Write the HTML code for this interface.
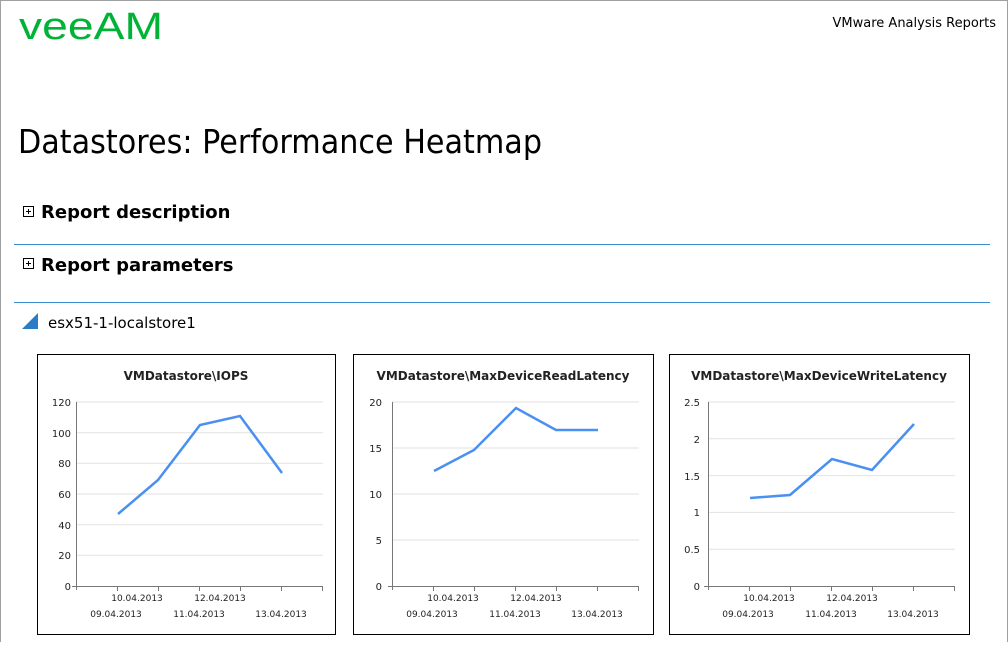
<!DOCTYPE html>
<html><head><meta charset="utf-8"><style>
body{margin:0;width:1008px;height:642px;overflow:hidden;background:#fff;font-family:"DejaVu Sans","Liberation Sans",sans-serif;}
</style></head><body>
<svg width="1008" height="642" xmlns="http://www.w3.org/2000/svg" font-family="DejaVu Sans, Liberation Sans, sans-serif">
<rect x="0.5" y="0.5" width="1007" height="660" fill="none" stroke="#a0a0a0"/>
<text x="19" y="39" font-size="38" fill="#00b336" font-family="Liberation Sans, sans-serif" textLength="144" lengthAdjust="spacingAndGlyphs">veeAM</text>
<text x="996" y="27" font-size="13" text-anchor="end" fill="#000">VMware Analysis Reports</text>
<text x="18" y="153" font-size="33" fill="#000" font-family="DejaVu Sans, sans-serif" textLength="524" lengthAdjust="spacingAndGlyphs">Datastores: Performance Heatmap</text>
<rect x="23.5" y="206.5" width="10" height="10" fill="none" stroke="#000"/><path d="M26 211.5h5M28.5 209v5" stroke="#000"/>
<text x="41" y="218" font-size="18" font-weight="bold">Report description</text>
<line x1="14" y1="244.5" x2="990" y2="244.5" stroke="#3a8fd0"/>
<rect x="23.5" y="258.5" width="10" height="10" fill="none" stroke="#000"/><path d="M26 263.5h5M28.5 261v5" stroke="#000"/>
<text x="41" y="271" font-size="18" font-weight="bold">Report parameters</text>
<line x1="14" y1="302.5" x2="990" y2="302.5" stroke="#3a8fd0"/>
<path d="M22 329L38 313V329Z" fill="#2a7cc4"/>
<text x="48" y="328" font-size="15">esx51-1-localstore1</text>

<g font-size="10" fill="#222">
<!-- chart 1 -->
<rect x="37.5" y="354.5" width="298" height="280" fill="none" stroke="#000"/>
<text x="186" y="380" text-anchor="middle" font-size="12" font-weight="bold">VMDatastore\IOPS</text>
<g stroke="#e2e2e2"><line x1="76" x2="323" y1="402" y2="402"/><line x1="76" x2="323" y1="432.7" y2="432.7"/><line x1="76" x2="323" y1="463.3" y2="463.3"/><line x1="76" x2="323" y1="494" y2="494"/><line x1="76" x2="323" y1="524.7" y2="524.7"/><line x1="76" x2="323" y1="555.3" y2="555.3"/></g>
<g stroke="#777"><line x1="76.5" y1="402" x2="76.5" y2="590"/><line x1="72" y1="586.5" x2="323" y2="586.5"/>
<path d="M117.5 586v5M158.5 586v5M199.5 586v5M240.5 586v5M281.5 586v5M322.5 586v5"/></g>
<g text-anchor="end"><text x="71" y="406">120</text><text x="71" y="437">100</text><text x="71" y="467">80</text><text x="71" y="498">60</text><text x="71" y="529">40</text><text x="71" y="559">20</text><text x="71" y="590">0</text></g>
<g font-size="9" text-anchor="middle"><text x="137" y="601">10.04.2013</text><text x="220" y="601">12.04.2013</text><text x="116" y="617">09.04.2013</text><text x="199" y="617">11.04.2013</text><text x="281" y="617">13.04.2013</text></g>
<polyline points="118,514 158,480 200,425 240,416 282,473" fill="none" stroke="#4a90f0" stroke-width="2.5"/>

<!-- chart 2 -->
<rect x="353.5" y="354.5" width="300" height="280" fill="none" stroke="#000"/>
<text x="503" y="380" text-anchor="middle" font-size="12" font-weight="bold">VMDatastore\MaxDeviceReadLatency</text>
<g stroke="#e2e2e2"><line x1="392" x2="639" y1="402" y2="402"/><line x1="392" x2="639" y1="448" y2="448"/><line x1="392" x2="639" y1="494" y2="494"/><line x1="392" x2="639" y1="540" y2="540"/></g>
<g stroke="#777"><line x1="392.5" y1="402" x2="392.5" y2="590"/><line x1="388" y1="586.5" x2="639" y2="586.5"/>
<path d="M433.5 586v5M474.5 586v5M515.5 586v5M556.5 586v5M597.5 586v5M638.5 586v5"/></g>
<g text-anchor="end"><text x="382" y="406">20</text><text x="382" y="452">15</text><text x="382" y="498">10</text><text x="382" y="544">5</text><text x="382" y="590">0</text></g>
<g font-size="9" text-anchor="middle"><text x="453" y="601">10.04.2013</text><text x="536" y="601">12.04.2013</text><text x="432" y="617">09.04.2013</text><text x="515" y="617">11.04.2013</text><text x="597" y="617">13.04.2013</text></g>
<polyline points="434,471 474,450 516,408 556,430 598,430" fill="none" stroke="#4a90f0" stroke-width="2.5"/>

<!-- chart 3 -->
<rect x="669.5" y="354.5" width="300" height="280" fill="none" stroke="#000"/>
<text x="819" y="380" text-anchor="middle" font-size="12" font-weight="bold">VMDatastore\MaxDeviceWriteLatency</text>
<g stroke="#e2e2e2"><line x1="708" x2="955" y1="402" y2="402"/><line x1="708" x2="955" y1="438.8" y2="438.8"/><line x1="708" x2="955" y1="475.6" y2="475.6"/><line x1="708" x2="955" y1="512.4" y2="512.4"/><line x1="708" x2="955" y1="549.2" y2="549.2"/></g>
<g stroke="#777"><line x1="708.5" y1="402" x2="708.5" y2="590"/><line x1="704" y1="586.5" x2="955" y2="586.5"/>
<path d="M749.5 586v5M790.5 586v5M831.5 586v5M872.5 586v5M913.5 586v5M954.5 586v5"/></g>
<g text-anchor="end"><text x="700" y="406">2.5</text><text x="700" y="443">2</text><text x="700" y="480">1.5</text><text x="700" y="516">1</text><text x="700" y="553">0.5</text><text x="700" y="590">0</text></g>
<g font-size="9" text-anchor="middle"><text x="769" y="601">10.04.2013</text><text x="852" y="601">12.04.2013</text><text x="748" y="617">09.04.2013</text><text x="831" y="617">11.04.2013</text><text x="913" y="617">13.04.2013</text></g>
<polyline points="750,498 790,495 832,459 872,470 914,424" fill="none" stroke="#4a90f0" stroke-width="2.5"/>
</g>
</svg>
</body></html>
